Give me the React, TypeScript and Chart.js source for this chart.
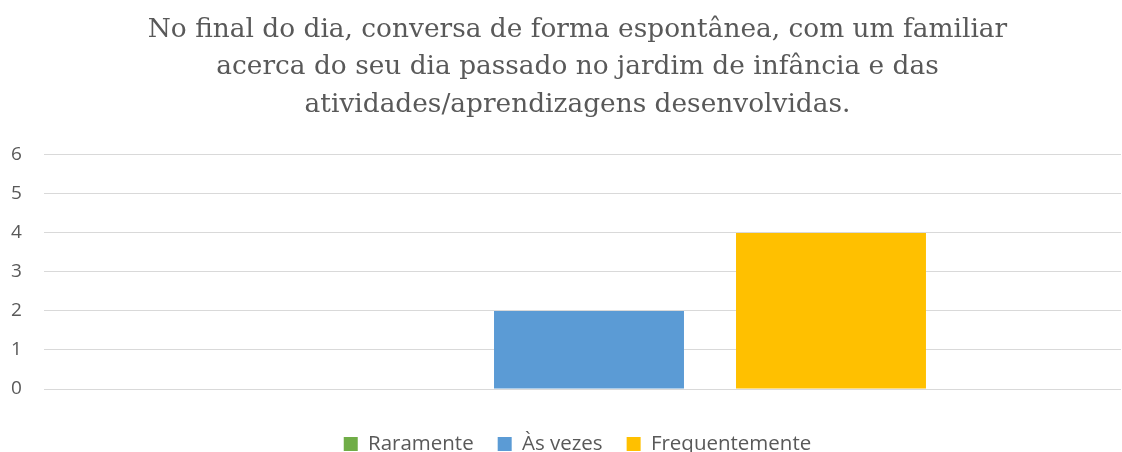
import React, { useEffect, useRef } from "react";
import { Chart, registerables } from "chart.js";

Chart.register(...registerables);

const titleLines = [
  "No final do dia, conversa de forma espontânea, com um familiar",
  "acerca do seu dia passado no jardim de infância e das",
  "atividades/aprendizagens desenvolvidas.",
];
const categories = [""];
const seriesNames = ["Raramente", "Às vezes", "Frequentemente"];
const raramente = [0];
const asVezes = [2];
const frequentemente = [4];
const seriesColors = ["#70AD47", "#5B9BD5", "#FFC000"];
const yMin = 0;
const yMax = 6;
const yStep = 1;

export default function App() {
  const ref = useRef<HTMLCanvasElement | null>(null);

  useEffect(() => {
    document.body.style.margin = "0";
    const canvas = ref.current;
    if (!canvas) return;
    const values = [raramente, asVezes, frequentemente];
    const chart = new Chart(canvas, {
      type: "bar",
      data: {
        labels: categories,
        datasets: seriesNames.map((name, i) => ({
          label: name,
          data: values[i],
          backgroundColor: seriesColors[i],
          borderWidth: 0,
          categoryPercentage: 0.6823,
          barPercentage: 0.785,
        })),
      },
      options: {
        responsive: false,
        animation: false,
        devicePixelRatio: 1,
        layout: { padding: { left: 34, right: 1, top: 0, bottom: -12.25 } },
        plugins: {
          title: {
            display: true,
            text: titleLines,
            color: "#595959",
            font: { family: "'DejaVu Serif'", size: 26.4, weight: "normal", lineHeight: 1.42 },
            padding: { top: 11, bottom: 31.5 },
          },
          legend: {
            position: "bottom",
            labels: {
              boxWidth: 14,
              boxHeight: 14,
              padding: 24,
              color: "#595959",
              font: { family: "'Open Sans'", size: 20.5 },
            },
          },
          tooltip: { enabled: false },
        },
        scales: {
          x: {
            grid: { display: false, drawTicks: true, tickLength: 20.75 },
            border: { display: false },
            ticks: { display: false },
          },
          y: {
            min: yMin,
            max: yMax,
            afterFit: (scale: any) => {
              scale.width = 23;
            },
            grid: { color: "#D9D9D9", lineWidth: 1, drawTicks: true, tickLength: 13 },
            border: { display: false },
            ticks: {
              stepSize: yStep,
              mirror: true,
              padding: -46,
              color: "#595959",
              font: { family: "'Open Sans'", size: 19 },
            },
          },
        },
      },
    });
    return () => chart.destroy();
  }, []);

  return (
    <div style={{ width: 1122, height: 452 }}>
      <canvas ref={ref} width={1122} height={452} />
    </div>
  );
}
